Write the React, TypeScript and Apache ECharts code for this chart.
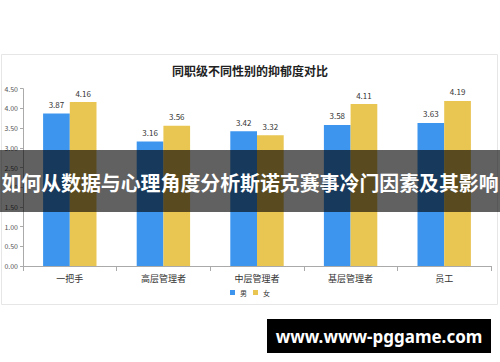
import React, { useEffect, useRef } from "react";
import * as echarts from "echarts";

const categories = ["一把手", "高层管理者", "中层管理者", "基层管理者", "员工"];
const maleValues = [3.87, 3.16, 3.42, 3.58, 3.63];
const femaleValues = [4.16, 3.56, 3.32, 4.11, 4.19];
const seriesNames = ["男", "女"];
const titleText = "同职级不同性别的抑郁度对比";
const bannerText = "如何从数据与心理角度分析斯诺克赛事冷门因素及其影响";
const watermarkText = "www.www-pggame.com";

const FONT = '"Noto Sans CJK SC", "Noto Sans", sans-serif';

export default function App() {
  const ref = useRef<HTMLDivElement>(null);
  useEffect(() => {
    if (!ref.current) return;
    const chart = echarts.init(ref.current, undefined, { renderer: "svg" });
    chart.setOption({
      animation: false,
      backgroundColor: "#ffffff",
      textStyle: { fontFamily: FONT },
      title: {
        text: titleText,
        left: "center",
        top: 59,
        textStyle: { fontSize: 12, fontWeight: "bold", color: "#222", fontFamily: FONT },
      },
      grid: { left: 23, right: 9, top: 88.7, bottom: 96, containLabel: false },
      legend: {
        data: seriesNames,
        bottom: 61,
        left: "center",
        itemWidth: 5,
        itemHeight: 5,
        itemGap: 6,
        icon: "rect",
        textStyle: { fontSize: 7, color: "#333", fontFamily: FONT },
      },
      xAxis: {
        type: "category",
        data: categories,
        axisLine: { lineStyle: { color: "#aaa" } },
        axisTick: { show: true, lineStyle: { color: "#aaa" } },
        axisLabel: { fontSize: 9, color: "#333", margin: 8, fontFamily: FONT },
      },
      yAxis: {
        type: "value",
        min: 0,
        max: 4.5,
        interval: 0.5,
        axisLine: { show: true, lineStyle: { color: "#aaa" } },
        axisTick: { show: true, length: 3, lineStyle: { color: "#aaa" } },
        splitLine: { show: false },
        axisLabel: {
          fontSize: 7,
          color: "#555",
          margin: 5,
          formatter: (v: number) => v.toFixed(2),
        },
      },
      series: [
        {
          name: seriesNames[0],
          type: "bar",
          data: maleValues,
          barWidth: 26.7,
          barGap: "0%",
          itemStyle: { color: "#3d95ee" },
          label: { show: true, position: "top", distance: 5, fontSize: 8, color: "#333" },
        },
        {
          name: seriesNames[1],
          type: "bar",
          data: femaleValues,
          barWidth: 26.7,
          barGap: "0%",
          itemStyle: { color: "#e9c552" },
          label: { show: true, position: "top", distance: 5, fontSize: 8, color: "#333" },
        },
      ],
      graphic: [
        {
          type: "rect",
          z: -10,
          silent: true,
          shape: { x: 1.5, y: 54.5, width: 496, height: 250 },
          style: { fill: "none", stroke: "#e6e6e6", lineWidth: 1 },
        },
        {
          type: "rect",
          z: 100,
          silent: true,
          shape: { x: 0, y: 150, width: 500, height: 62 },
          style: { fill: "rgba(0,0,0,0.62)" },
        },
        {
          type: "text",
          z: 101,
          silent: true,
          x: 250,
          y: 182,
          style: {
            text: bannerText,
            fill: "#ffffff",
            font: `bold 19.9px ${FONT}`,
            textAlign: "center",
            textVerticalAlign: "middle",
          },
        },
        {
          type: "rect",
          z: 100,
          silent: true,
          shape: { x: 267, y: 319, width: 224, height: 34 },
          style: { fill: "#000000" },
        },
        {
          type: "text",
          z: 101,
          silent: true,
          x: 379,
          y: 336,
          style: {
            text: watermarkText,
            fill: "#ffffff",
            font: `bold 17px "Noto Sans", sans-serif`,
            textAlign: "center",
            textVerticalAlign: "middle",
          },
        },
      ],
    });
    return () => chart.dispose();
  }, []);
  return <div ref={ref} style={{ width: 500, height: 362, position: "absolute", left: 0, top: 0 }} />;
}
